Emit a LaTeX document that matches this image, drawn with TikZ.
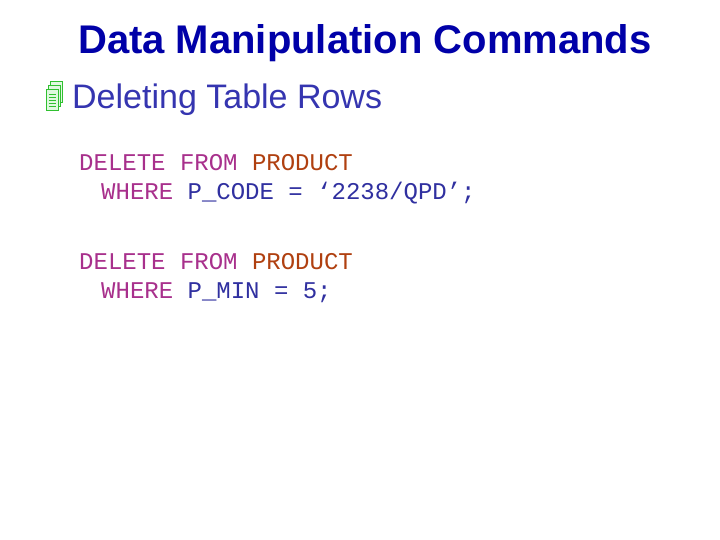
\documentclass[tikz,border=0pt]{standalone}
\usepackage{fontspec}
\setmainfont{Liberation Sans}
\newfontfamily\codefont{Liberation Mono}
\definecolor{titleblue}{HTML}{0000A8}
\definecolor{subblue}{HTML}{3535B0}
\definecolor{kwmag}{HTML}{A8308C}
\definecolor{tblbrown}{HTML}{B04010}
\definecolor{codeblue}{HTML}{3030A0}
\definecolor{icongreen}{HTML}{30C030}
\definecolor{iconfill}{HTML}{E0F8E0}
\tikzset{
  title/.style={anchor=base west, inner sep=0pt, font=\fontsize{40}{40}\selectfont\bfseries, text=titleblue},
  subtitle/.style={anchor=base west, inner sep=0pt, font=\fontsize{34}{34}\selectfont, text=subblue},
  code/.style={anchor=base west, inner sep=0pt, font=\codefont\fontsize{24}{24}\selectfont, text=codeblue},
  page/.style={draw=icongreen, fill=iconfill, line width=1pt},
  pageline/.style={draw=icongreen, line width=0.8pt}
}
\newcommand{\kw}[1]{\textcolor{kwmag}{#1}}
\newcommand{\tb}[1]{\textcolor{tblbrown}{#1}}
\begin{document}
\begin{tikzpicture}[x=1pt,y=-1pt]
\useasboundingbox (0,0) rectangle (720,540);
\fill[white] (0,0) rectangle (720,540);
\node[title] (t) at (78,54) {Data Manipulation Commands};
% icon
\draw[page] (50,82) rectangle (62,103);
\draw[page] (48,86) rectangle (60,107);
\draw[page] (46,90) rectangle (58,111);
\foreach \yy in {94,97,100,103,106} {\draw[pageline] (48.5,\yy) -- (55.5,\yy);}
\node[subtitle] (s) at (72,109) {Deleting Table Rows};
\node[code] (c1) at (79,171) {\kw{DELETE FROM} \tb{PRODUCT}};
\node[code] (c2) at (101,200) {\kw{WHERE} P\_CODE = ‘2238/QPD’;};
\node[code] (c3) at (79,269) {\kw{DELETE FROM} \tb{PRODUCT}};
\node[code] (c4) at (101,298) {\kw{WHERE} P\_MIN = 5;};
\end{tikzpicture}
\end{document}
